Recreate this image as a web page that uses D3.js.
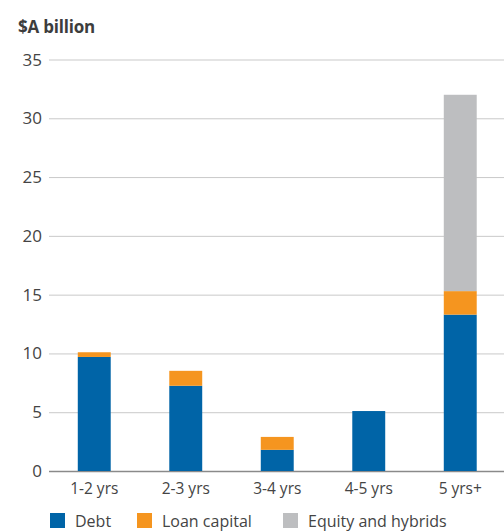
<!DOCTYPE html>
<html>
  <head>
    <meta charset="utf-8">
    <title>Maturity profile</title>
    <style>
      body { margin: 0; background: #fff; }
      svg text { font-family: "Open Sans", "Noto Sans", sans-serif; }
    </style>
  </head>
  <body>
    <script src="https://cdn.jsdelivr.net/npm/d3@7/dist/d3.min.js"></script>
    <script type="text/javascript">
      var categories = ["1-2 yrs", "2-3 yrs", "3-4 yrs", "4-5 yrs", "5 yrs+"];
      var debt = [9.7, 7.25, 1.8, 5.1, 13.3];
      var loanCapital = [0.4, 1.27, 1.1, 0, 2.0];
      var equityHybrids = [0, 0, 0, 0, 16.7];
      var seriesNames = ["Debt", "Loan capital", "Equity and hybrids"];
      var yTicks = [0, 5, 10, 15, 20, 25, 30, 35];

      var colors = ["#0064a7", "#f5951f", "#bdbec0"];
      var width = 504, height = 532;

      var svg = d3.select("body").append("svg")
                  .attr("width", width)
                  .attr("height", height);

      var rows = categories.map(function(c, i) {
        return { cat: c, "Debt": debt[i], "Loan capital": loanCapital[i], "Equity and hybrids": equityHybrids[i] };
      });
      var stacked = d3.stack().keys(seriesNames)(rows);

      var x = d3.scaleBand()
                .domain(categories)
                .range([48.5, 506])
                .paddingInner(0.64)
                .paddingOuter(0.32);

      var y = d3.scaleLinear()
                .domain([0, 35])
                .range([471, 59.5]);

      // title
      svg.append("text")
         .attr("x", 18)
         .attr("y", 33)
         .attr("fill", "#3d3d3d")
         .style("font-size", "17px")
         .style("font-weight", "bold")
         .style("letter-spacing", "-0.2px")
         .text("$A billion");

      // grid lines
      svg.append("g").selectAll("line")
         .data(yTicks)
         .enter().append("line")
         .attr("x1", 49).attr("x2", width)
         .attr("y1", function(d) { return y(d) + 0.5; })
         .attr("y2", function(d) { return y(d) + 0.5; })
         .attr("stroke", function(d) { return d === 0 ? "#8a8a8a" : "#c9c9c9"; })
         .attr("stroke-width", function(d) { return d === 0 ? 1.3 : 1; });

      // y labels
      svg.append("g").selectAll("text")
         .data(yTicks)
         .enter().append("text")
         .attr("x", 42)
         .attr("y", function(d) { return y(d) + 6; })
         .attr("text-anchor", "end")
         .attr("fill", "#444")
         .style("font-size", "17px")
         .text(function(d) { return d; });

      // bars
      svg.append("g").selectAll("g")
         .data(stacked)
         .enter().append("g")
         .attr("fill", function(d, i) { return colors[i]; })
         .selectAll("rect")
         .data(function(d) { return d; })
         .enter().append("rect")
         .attr("x", function(d) { return x(d.data.cat); })
         .attr("width", x.bandwidth())
         .attr("y", function(d) { return y(d[1]); })
         .attr("height", function(d) { return y(d[0]) - y(d[1]); });

      // x labels
      svg.append("g").selectAll("text")
         .data(categories)
         .enter().append("text")
         .attr("x", function(d) { return x(d) + x.bandwidth() / 2; })
         .attr("y", 494)
         .attr("text-anchor", "middle")
         .attr("fill", "#444")
         .style("font-size", "15.5px")
         .text(function(d) { return d; });

      // legend
      var legendX = [50, 137, 283];
      var legend = svg.append("g").selectAll("g")
                      .data(seriesNames)
                      .enter().append("g")
                      .attr("transform", function(d, i) { return "translate(" + legendX[i] + ",513)"; });
      legend.append("rect")
            .attr("width", 15).attr("height", 15)
            .attr("fill", function(d, i) { return colors[i]; });
      legend.append("text")
            .attr("x", 25)
            .attr("y", 14)
            .attr("fill", "#444")
            .style("font-size", "16px")
            .text(function(d) { return d; });
    </script>
  </body>
</html>
